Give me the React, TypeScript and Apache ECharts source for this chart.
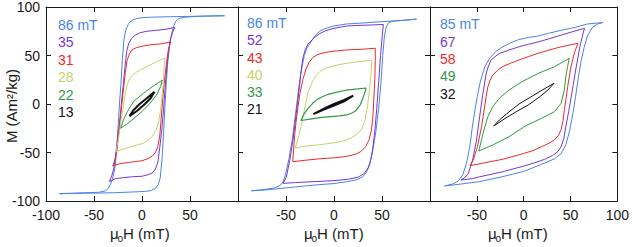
import React, { useEffect, useRef } from "react";
import * as echarts from "echarts";

// ---------- tick / label data ----------
const xTickMin = -100;
const xTickMax = 100;
const tickStep = 50;
const yTickMin = -100;
const yTickMax = 100;

const panel1Labels = ["86 mT", "35", "31", "28", "22", "13"];
const panel2Labels = ["86 mT", "52", "43", "40", "33", "21"];
const panel3Labels = ["85 mT", "67", "58", "49", "32"];

const xAxisTitle = ["μ", "o", "H (mT)"];
const yAxisTitle = "M (Am²/kg)";

// ---------- panel 1 loops [H (mT), M (Am2/kg)] ----------
const p1Blue = [
  [86, 91], [60, 90.5], [30, 90], [10, 89.5], [0, 89], [-6, 88], [-10, 86.5], [-14, 83], [-17, 76], [-19, 65],
  [-20.5, 45], [-22, 20], [-23.5, 0], [-25, -25], [-26.5, -50], [-28.5, -68], [-31, -78], [-33, -83], [-35, -87],
  [-38, -89.5], [-45, -91], [-60, -91.5], [-86, -92.5],
  [-60, -92], [-30, -91.5], [-5, -90.5], [5, -90], [10, -89], [14, -87], [17, -83], [19, -76], [21, -55],
  [22.5, -30], [24, 0], [25.5, 25], [27, 45], [29, 63], [31, 73], [33, 80], [35, 85], [38, 88], [45, 89.5],
  [60, 90.5], [86, 91],
];
const p1Purple = [
  [34, 79], [25, 77], [15, 76], [5, 75], [-2, 73.5], [-7, 71], [-11, 67.5], [-14, 62], [-16, 54], [-17.5, 40],
  [-19.5, 20], [-21.5, 0], [-23.5, -20], [-25.5, -36], [-27.5, -53], [-29.5, -67], [-31.5, -74], [-34, -80],
  [-28, -77], [-20, -76], [-10, -75], [0, -74.5], [6, -73], [11, -71], [14, -67], [16.5, -60], [18.5, -45],
  [20.5, -28], [22.5, -5], [24, 15], [26, 40], [28, 57], [30, 68], [32, 74], [34, 79],
];
const p1Red = [
  [30, 64], [20, 62], [8, 61], [0, 59.5], [-6, 58], [-10, 56], [-13, 52], [-15.5, 45], [-17.5, 32], [-19, 18],
  [-21, 0], [-22.5, -15], [-24.5, -32], [-26, -47], [-28, -57], [-30.5, -64],
  [-23, -61.5], [-12, -60], [0, -58.5], [7, -56], [11, -53.5], [14, -50], [16.5, -44], [18.5, -33], [20, -15],
  [21.5, 4], [23, 20], [25, 38], [27, 53], [28.5, 60], [30, 64],
];
const p1Yellow = [
  [24, 47.5], [16, 44], [8, 40], [0, 36], [-5.6, 33], [-10, 29], [-12.5, 26.5], [-15, 21], [-16.7, 14.4],
  [-18.5, 4], [-20, -6], [-22, -18], [-23.6, -30], [-25.3, -40], [-27, -49],
  [-18, -46], [-8, -43], [1.4, -40.5], [7, -37], [11.8, -32], [15, -26], [17, -20], [19.4, -6], [21.5, 14],
  [23, 38], [24, 47.5],
];
const p1Green = [
  [21.2, 24.7], [11.8, 18.6], [1.4, 11], [-9, 2.4], [-15.3, -7.9], [-19.4, -16.5], [-22.2, -25],
  [-12.5, -18.2], [-2, -9.6], [8.3, 0.7], [15.3, 9.3], [19.4, 17.9], [21.2, 24.7],
];
const p1Black = [
  [13, 12.5], [5, 6], [-3, -0.5], [-9, -6.5], [-13, -12.5],
  [-5, -7], [3, 0], [9, 6], [13, 12.5],
];

// ---------- panel 2 loops ----------
const p2Blue = [
  [86, 87.5], [75, 86.5], [60, 85.5], [48, 84.8], [30, 83.5], [13, 82.5], [0, 80.5], [-5, 79], [-10, 77.5],
  [-15, 75], [-20, 70], [-24, 64], [-28, 58], [-31, 50], [-34, 35], [-36.5, 18], [-40, -10], [-43.5, -37],
  [-47, -57], [-50.5, -73], [-53, -80], [-56, -84], [-62, -86.5], [-75, -88.5], [-86, -89.5],
  [-70, -88.5], [-55, -87], [-40, -85.5], [-20, -83.5], [0, -82], [14, -80], [24, -78], [30, -75], [34, -70],
  [37, -63], [40, -50], [43.5, -29], [46.5, -5], [49, 23], [50.8, 50], [52.5, 70], [54.5, 79.5], [57, 84],
  [62, 85.5], [75, 86.5], [86, 87.5],
];
const p2Purple = [
  [51.4, 82], [40, 81.5], [25, 81], [13, 80.4], [0, 78], [-4, 77], [-10, 75], [-15, 72.5], [-21, 68], [-27, 62],
  [-30, 56], [-32.5, 47], [-34.5, 32], [-36, 18], [-39.3, -9.6], [-42.7, -37], [-46, -57.7], [-49.6, -75],
  [-53, -81.8],
  [-40, -81], [-20, -80], [0, -79], [15, -77.5], [25, -75.5], [31, -72], [35.5, -66], [38.5, -57], [40.5, -45],
  [42.5, -28], [44.5, -5], [46.5, 22], [48.5, 50], [50.3, 71], [51.4, 82],
];
const p2Red = [
  [43, 57.5], [30, 56.5], [13, 55.7], [0, 54.5], [-10, 53], [-17, 51], [-22, 48], [-26, 43], [-29.5, 35],
  [-32.5, 25], [-35.5, 11], [-37.5, -3], [-39.3, -16.5], [-41, -32], [-42, -46], [-43, -59.5],
  [-30, -58], [-15, -56.5], [0, -55.5], [13, -54], [22, -52], [28, -49], [33, -44], [36.5, -37], [39, -27],
  [40.5, -13], [41.5, 5], [42.5, 25], [43, 45], [43, 57.5],
];
const p2Yellow = [
  [39.5, 45], [25, 43.5], [13, 42], [0, 39.5], [-8, 37], [-14, 34], [-19, 29], [-23, 22], [-27, 12],
  [-30.5, -4], [-34, -22], [-37.5, -36], [-40.5, -45.5],
  [-30, -43.5], [-15, -42], [0, -40], [10, -38], [18, -35], [24, -31], [28, -27], [32, -18], [35, -2],
  [37, 15], [38.5, 30], [39.5, 45],
];
const p2Green = [
  [33.5, 16.5], [25, 15.5], [13, 14.4], [0, 11.5], [-6, 10], [-12, 7.5], [-17, 5], [-22, 1], [-27, -4.5],
  [-31, -10], [-34.5, -17],
  [-25, -15.5], [-15, -14], [-4, -13], [6, -12.3], [13, -11.3], [18, -9.5], [22, -7.5], [25, -4], [27.5, -0.5],
  [30, 6], [32, 11.5], [33.5, 16.5],
];
const p2Black = [
  [20, 8.5], [10, 4], [0, 0], [-10, -4.5], [-21.5, -10.5],
  [-10, -5.5], [0, -1.5], [10, 2.5], [20, 8.5],
];

// ---------- panel 3 loops ----------
const p3Blue = [
  [84.5, 84], [68, 82.5], [55, 79], [40, 76], [25, 72.5], [15, 70], [5, 68.5], [-5, 66.5], [-14, 63],
  [-22.5, 59], [-30, 54], [-36, 47.5], [-41.5, 38.5], [-46.5, 22], [-49.5, 8], [-52, -6], [-55, -25],
  [-57.5, -44], [-61, -61], [-65, -73], [-70, -79.5], [-76, -82.5], [-84.5, -84.5],
  [-71, -83], [-47, -80], [-23, -75], [0, -69.5], [8, -66.5], [22, -61], [33, -56.5], [40, -51], [45, -42],
  [49, -28], [52.5, -10], [55.5, 8], [58.5, 28], [61.5, 45], [64.5, 58], [68, 70], [73, 78.5], [79, 82.5],
  [84.5, 84],
];
const p3Purple = [
  [65, 78], [52, 74.5], [40, 71], [28, 67.5], [15.5, 64], [5, 61.5], [-5, 59], [-16, 55.5], [-26, 52],
  [-31, 48.5], [-35, 45], [-38, 38], [-40, 31.5], [-43.5, 11], [-47, -13], [-50.3, -37], [-54.5, -57.7],
  [-59, -71.5], [-63, -76], [-67, -78.4],
  [-55, -77], [-47, -75], [-23, -70], [0, -64], [12, -60.5], [22.5, -57], [31, -53], [36.5, -49], [40, -44],
  [43, -35], [45, -23.5], [48, -8], [50.5, 6], [53, 20], [55.5, 35], [58, 48], [60, 59], [62, 67], [63.5, 73],
  [65, 78],
];
const p3Red = [
  [58, 62.6], [40, 59], [28, 55.8], [15.5, 52.3], [5, 48.8], [-5, 45.4], [-14, 42], [-22.5, 38.5], [-28, 34.5],
  [-33, 30], [-36, 24], [-38.2, 17.8], [-40, 8], [-41.7, -3], [-45, -23.4], [-49.3, -44], [-53.8, -57.7],
  [-57.3, -63.6],
  [-43.5, -61], [-22.5, -57], [0, -51], [10, -48], [19, -44], [27, -40.5], [33, -37], [37, -32.5], [40, -26.5],
  [42, -17], [43.5, -6], [45.5, 7], [47, 18], [50.5, 38.5], [54, 52.5], [58, 62.6],
];
const p3Green = [
  [48.6, 47.1], [33, 38.5], [15.6, 31.6], [-1.7, 23], [-15.6, 14.4], [-26, 5.9], [-33, -2.8], [-38.2, -13],
  [-42.4, -26.8], [-45, -37], [-47.9, -48.5],
  [-33, -42.3], [-15.6, -33.7], [1.7, -22.7], [19, -14.8], [33, -7.9], [40, 0.7], [43.4, 14.4], [45, 28],
  [46.9, 38.5], [48.6, 47.1],
];
const p3Black = [
  [32.3, 21.3], [20, 14.5], [8, 7.5], [-5, 0], [-18, -10], [-26, -16.5], [-32, -22.7],
  [-20, -15], [-8, -8], [5, -1], [18, 8], [26, 14.5], [32.3, 21.3],
];

// ---------- styles ----------
const BLUE = "#4a84e6";
const PURPLE = "#7536d2";
const RED = "#ec2a2a";
const YELLOW = "#c6d36a";
const GREEN = "#2f9a45";
const BLACK = "#111111";
const FONT = "'Liberation Sans', Arial, Helvetica, sans-serif";

const panels = [
  {
    loops: [p1Blue, p1Purple, p1Red, p1Yellow, p1Green, p1Black],
    colors: [BLUE, PURPLE, RED, YELLOW, GREEN, BLACK],
    widths: [1, 1, 1, 1, 1, 2],
    labels: panel1Labels,
    grid: { left: 46, top: 7, width: 192, height: 194 },
    legend: { x: 58, y: 25, step: 17.4 },
    showMin: true, showMax: false, showYLabels: true, rightTicks: false,
    titleX: 140,
  },
  {
    loops: [p2Blue, p2Purple, p2Red, p2Yellow, p2Green, p2Black],
    colors: [BLUE, PURPLE, RED, YELLOW, GREEN, BLACK],
    widths: [1, 1, 1, 1, 1.2, 2],
    labels: panel2Labels,
    grid: { left: 238, top: 7, width: 192, height: 194 },
    legend: { x: 247, y: 23.3, step: 17.1 },
    showMin: false, showMax: false, showYLabels: false, rightTicks: true,
    titleX: 334,
  },
  {
    loops: [p3Blue, p3Purple, p3Red, p3Green, p3Black],
    colors: [BLUE, PURPLE, RED, GREEN, BLACK],
    widths: [1, 1, 1, 1, 1],
    labels: panel3Labels,
    grid: { left: 430, top: 7, width: 191, height: 194 },
    legend: { x: 440, y: 24.3, step: 17.3 },
    showMin: false, showMax: true, showYLabels: false, rightTicks: true,
    titleX: 518,
  },
];

function buildOption() {
  const grid: any[] = [];
  const xAxis: any[] = [];
  const yAxis: any[] = [];
  const series: any[] = [];
  const graphic: any[] = [];

  const axisLine = { show: true, onZero: false, lineStyle: { color: "#1a1a1a", width: 1 } };
  const tick = { show: true, inside: true, length: 5, lineStyle: { color: "#1a1a1a", width: 1 } };
  const labelStyle = { color: "#1a1a1a", fontSize: 14, fontFamily: FONT };

  panels.forEach((p, i) => {
    grid.push({ ...p.grid, containLabel: false });
    xAxis.push({
      type: "value", gridIndex: i, min: xTickMin, max: xTickMax, interval: tickStep, position: "bottom",
      axisLine, axisTick: tick, splitLine: { show: false },
      axisLabel: { ...labelStyle, margin: 7, showMinLabel: p.showMin, showMaxLabel: p.showMax },
    });
    xAxis.push({
      type: "value", gridIndex: i, min: xTickMin, max: xTickMax, interval: tickStep, position: "top",
      axisLine, axisTick: tick, splitLine: { show: false }, axisLabel: { show: false },
    });
    yAxis.push({
      type: "value", gridIndex: i, min: yTickMin, max: yTickMax, interval: tickStep, position: "left",
      axisLine, axisTick: tick, splitLine: { show: false },
      axisLabel: { ...labelStyle, margin: 6, show: p.showYLabels },
    });
    yAxis.push({
      type: "value", gridIndex: i, min: yTickMin, max: yTickMax, interval: tickStep, position: "right",
      axisLine, axisTick: { ...tick, show: p.rightTicks }, splitLine: { show: false }, axisLabel: { show: false },
    });

    p.loops.forEach((data, k) => {
      series.push({
        type: "line",
        xAxisIndex: 2 * i,
        yAxisIndex: 2 * i,
        data,
        symbol: "none",
        showSymbol: false,
        smooth: false,
        silent: true,
        lineStyle: { color: p.colors[k], width: p.widths[k] },
        z: 2 + k,
      });
    });

    p.labels.forEach((t, k) => {
      graphic.push({
        type: "text",
        x: p.legend.x,
        y: p.legend.y + k * p.legend.step,
        style: { text: t, fill: p.colors[k], font: `14px ${FONT}`, align: "left", verticalAlign: "middle" },
      });
    });

    graphic.push({
      type: "group",
      x: p.titleX - 30,
      y: 233,
      children: [
        { type: "text", x: 0, y: 0, style: { text: xAxisTitle[0], fill: "#1a1a1a", font: `15px ${FONT}`, align: "left", verticalAlign: "middle" } },
        { type: "text", x: 7.5, y: 5, style: { text: xAxisTitle[1], fill: "#1a1a1a", font: `10px ${FONT}`, align: "left", verticalAlign: "middle" } },
        { type: "text", x: 13, y: 0, style: { text: xAxisTitle[2], fill: "#1a1a1a", font: `15px ${FONT}`, align: "left", verticalAlign: "middle" } },
      ],
    });
  });

  graphic.push({
    type: "text",
    x: 11,
    y: 106,
    rotation: Math.PI / 2,
    style: { text: yAxisTitle, fill: "#1a1a1a", font: `15px ${FONT}`, align: "center", verticalAlign: "middle" },
  });

  return {
    animation: false,
    backgroundColor: "#ffffff",
    grid,
    xAxis,
    yAxis,
    series,
    graphic,
  };
}

export default function App() {
  const ref = useRef<HTMLDivElement>(null);
  useEffect(() => {
    if (!ref.current) return;
    const chart = echarts.init(ref.current, undefined, { renderer: "svg" });
    chart.setOption(buildOption() as any);
    return () => chart.dispose();
  }, []);
  return (
    <div
      ref={ref}
      style={{ position: "absolute", left: 0, top: 0, width: 632, height: 247, background: "#fff" }}
    />
  );
}
